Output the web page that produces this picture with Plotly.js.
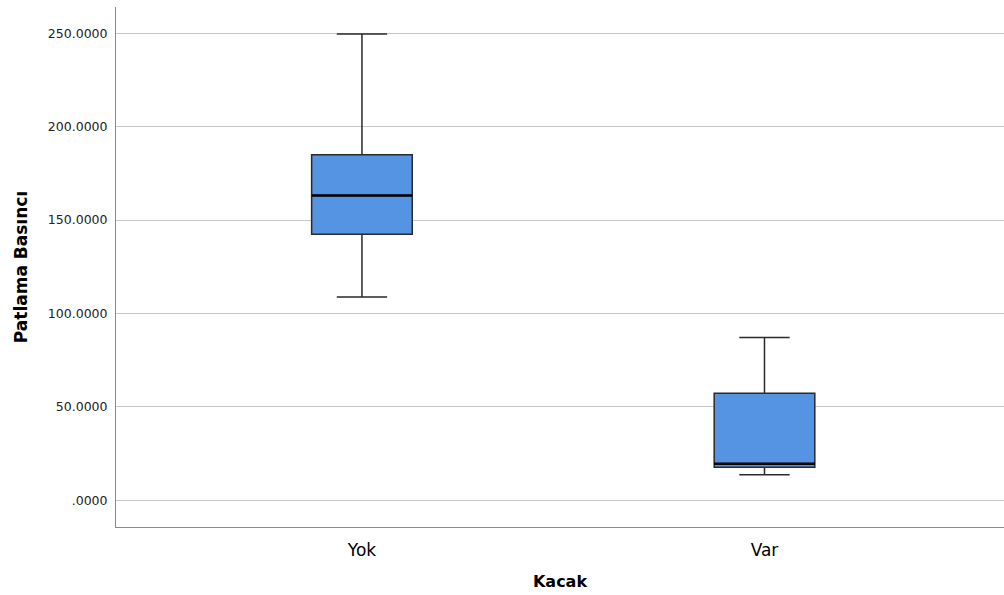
<!DOCTYPE html>
<html>
<head>
<meta charset="utf-8">
<script src="https://cdn.plot.ly/plotly-3.0.1.min.js"></script>
<style>html,body{margin:0;padding:0;background:#fff}#chart{width:1004px;height:595px}</style>
</head>
<body>
<div id="chart"></div>
<script>
var categories = ["Yok", "Var"];
var lowerWhisker = [108.9, 13.7];
var q1Values = [142.5, 17.7];
var medianValues = [163.2, 19.6];
var q3Values = [185.0, 57.3];
var upperWhisker = [249.6, 87.1];
var yTickValues = [0, 50, 100, 150, 200, 250];
var yTickLabels = [".0000", "50.0000", "100.0000", "150.0000", "200.0000", "250.0000"];

var boxTrace = {
  type: "box",
  x: categories,
  q1: q1Values,
  median: medianValues,
  q3: q3Values,
  lowerfence: lowerWhisker,
  upperfence: upperWhisker,
  boxpoints: false,
  width: 0.25,
  whiskerwidth: 0.5,
  fillcolor: "#5593e3",
  line: {color: "#2a2a2a", width: 1.5},
  hoverinfo: "skip",
  showlegend: false
};

var medianShapes = categories.map(function (c, i) {
  return {
    type: "line", xref: "x", yref: "y",
    x0: i - 0.125, x1: i + 0.125,
    y0: medianValues[i], y1: medianValues[i],
    line: {color: "#000", width: 2.5}
  };
});

var layout = {
  width: 1004,
  height: 595,
  margin: {l: 116, r: 0, t: 7, b: 68},
  paper_bgcolor: "#fff",
  plot_bgcolor: "#fff",
  showlegend: false,
  font: {family: "DejaVu Sans, sans-serif", color: "#000"},
  xaxis: {
    type: "category",
    range: [-0.611, 1.595],
    showline: true,
    linecolor: "#8a8a8a",
    linewidth: 1,
    showgrid: false,
    zeroline: false,
    ticks: "outside",
    ticklen: 8,
    tickcolor: "rgba(0,0,0,0)",
    tickfont: {family: "DejaVu Sans, sans-serif", size: 17, color: "#000"},
    title: {text: "Kacak", font: {family: "DejaVu Sans, sans-serif", size: 16, weight: "bold", color: "#000"}, standoff: 16},
    automargin: false
  },
  yaxis: {
    range: [-14.3, 264.1],
    tickvals: yTickValues,
    ticktext: yTickLabels,
    showline: true,
    linecolor: "#8a8a8a",
    linewidth: 1,
    showgrid: true,
    gridcolor: "#c8c8c8",
    gridwidth: 1,
    zeroline: false,
    ticks: "outside",
    ticklen: 5,
    tickcolor: "rgba(0,0,0,0)",
    tickfont: {family: "DejaVu Sans, sans-serif", size: 12.5, color: "#222"},
    title: {text: "Patlama Basıncı", font: {family: "DejaVu Sans, sans-serif", size: 17, weight: "bold", color: "#000"}, standoff: 15},
    automargin: false
  },
  shapes: medianShapes
};

Plotly.newPlot("chart", [boxTrace], layout, {displayModeBar: false, staticPlot: true});
</script>
</body>
</html>
